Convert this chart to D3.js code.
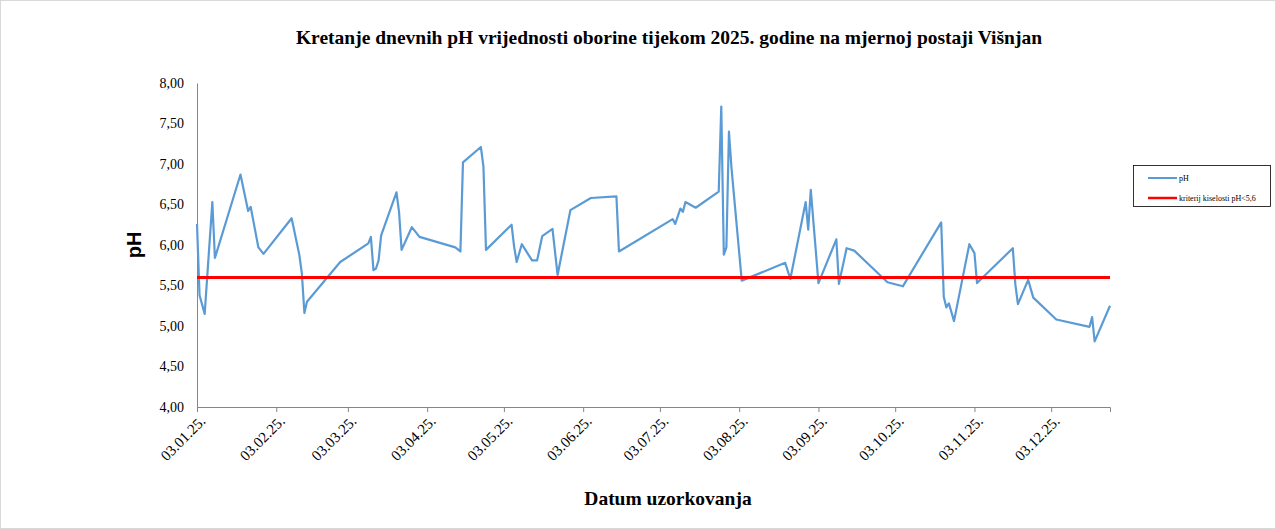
<!DOCTYPE html>
<html>
<head>
<meta charset="utf-8">
<script src="https://cdn.jsdelivr.net/npm/d3@7"></script>
<style>
  body { margin: 0; background: #fff; }
  svg { display: block; }
  .serif { font-family: "Liberation Serif", "Times New Roman", serif; fill: #000; }
</style>
</head>
<body>
<svg id="chart" width="1276" height="529"></svg>
<script>
// sampling dates and measured pH values
const dates = [
  '2025-01-03','2025-01-04','2025-01-06','2025-01-09','2025-01-10','2025-01-20','2025-01-23','2025-01-24',
  '2025-01-27','2025-01-29','2025-02-09','2025-02-12','2025-02-13','2025-02-14','2025-02-15','2025-02-28',
  '2025-03-11','2025-03-12','2025-03-13','2025-03-14','2025-03-15','2025-03-16','2025-03-22','2025-03-23',
  '2025-03-24','2025-03-28','2025-03-31','2025-04-14','2025-04-16','2025-04-17','2025-04-24','2025-04-25',
  '2025-04-26','2025-05-06','2025-05-07','2025-05-08','2025-05-10','2025-05-14','2025-05-16','2025-05-18',
  '2025-05-22','2025-05-24','2025-05-29','2025-06-06','2025-06-16','2025-06-17','2025-07-08','2025-07-09',
  '2025-07-11','2025-07-12','2025-07-13','2025-07-17','2025-07-26','2025-07-27','2025-07-28','2025-07-29',
  '2025-07-30','2025-07-31','2025-08-04','2025-08-21','2025-08-23','2025-08-29','2025-08-30','2025-08-31',
  '2025-09-03','2025-09-10','2025-09-11','2025-09-14','2025-09-17','2025-09-30','2025-10-06','2025-10-21',
  '2025-10-22','2025-10-23','2025-10-24','2025-10-26','2025-11-01','2025-11-03','2025-11-04','2025-11-18',
  '2025-11-19','2025-11-20','2025-11-24','2025-11-26','2025-12-05','2025-12-18','2025-12-19','2025-12-20',
  '2025-12-26'
];
const phValues = [
  6.26, 5.38, 5.15, 6.53, 5.84, 6.87, 6.42, 6.47,
  5.97, 5.89, 6.33, 5.88, 5.65, 5.16, 5.30, 5.79,
  6.02, 6.10, 5.69, 5.71, 5.81, 6.12, 6.65, 6.41,
  5.94, 6.22, 6.10, 5.97, 5.92, 7.02, 7.21, 6.97,
  5.94, 6.25, 5.98, 5.79, 6.01, 5.81, 5.81, 6.11,
  6.20, 5.63, 6.43, 6.58, 6.60, 5.92, 6.32, 6.26,
  6.45, 6.41, 6.53, 6.46, 6.66, 7.71, 5.88, 5.97,
  7.40, 6.95, 5.56, 5.78, 5.58, 6.53, 6.19, 6.68,
  5.53, 6.07, 5.52, 5.96, 5.93, 5.54, 5.49, 6.28,
  5.36, 5.23, 5.28, 5.06, 6.01, 5.90, 5.53, 5.96,
  5.51, 5.27, 5.57, 5.35, 5.08, 4.99, 5.11, 4.81,
  5.25
];
const acidLimit = 5.6;
const yTicks = [4, 4.5, 5, 5.5, 6, 6.5, 7, 7.5, 8];
const xTickDates = ['2025-01-03','2025-02-03','2025-03-03','2025-04-03','2025-05-03','2025-06-03',
  '2025-07-03','2025-08-03','2025-09-03','2025-10-03','2025-11-03','2025-12-03'];
const legendLabels = ['pH', 'kriterij kiselosti pH<5,6'];

const parse = d3.timeParse('%Y-%m-%d');
const points = dates.map((d, i) => ({ date: parse(d), ph: phValues[i] }));

const svg = d3.select('#chart');
const W = 1276, H = 529;
const plot = { left: 197, right: 1110, top: 83, bottom: 407 };

svg.append('rect')
  .attr('x', 0.5).attr('y', 0.5).attr('width', W - 1).attr('height', H - 1)
  .attr('fill', '#fff').attr('stroke', '#d9d9d9');

const x = d3.scaleTime()
  .domain(d3.extent(points, d => d.date))
  .range([plot.left, plot.right]);
const y = d3.scaleLinear().domain([4, 8]).range([plot.bottom, plot.top]);

const fmtY = v => d3.format('.2f')(v).replace('.', ',');
const fmtX = d3.timeFormat('%d.%m.%y.');

// y axis (no tick marks, just line + labels)
const yAxis = svg.append('g')
  .attr('transform', `translate(${plot.left},0)`)
  .call(d3.axisLeft(y).tickValues(yTicks).tickFormat(fmtY).tickSize(0).tickPadding(13));
yAxis.select('.domain').attr('stroke', '#868686').attr('stroke-width', 1);
yAxis.selectAll('text')
  .attr('class', 'serif')
  .style('font-size', '14px');

// x axis
const xAxis = svg.append('g')
  .attr('transform', `translate(0,${plot.bottom})`)
  .call(d3.axisBottom(x).tickValues(xTickDates.map(parse)).tickFormat(fmtX).tickSizeOuter(0).tickSize(5));
xAxis.select('.domain').attr('stroke', '#868686').attr('stroke-width', 1);
xAxis.selectAll('.tick line').attr('stroke', '#868686');
xAxis.selectAll('text')
  .attr('class', 'serif')
  .style('font-size', '15px')
  .attr('text-anchor', 'end')
  .attr('dy', null)
  .attr('y', 0)
  .attr('transform', 'translate(9,15) rotate(-45)');

// pH series
const line = d3.line().x(d => x(d.date)).y(d => y(d.ph));
svg.append('path')
  .datum(points)
  .attr('fill', 'none')
  .attr('stroke', '#5b9bd5')
  .attr('stroke-width', 2.2)
  .attr('stroke-linejoin', 'round')
  .attr('d', line);

// acidity criterion
svg.append('line')
  .attr('x1', plot.left).attr('x2', plot.right)
  .attr('y1', y(acidLimit)).attr('y2', y(acidLimit))
  .attr('stroke', '#ff0000').attr('stroke-width', 3);

// titles
svg.append('text')
  .attr('class', 'serif')
  .attr('x', 669).attr('y', 44)
  .attr('text-anchor', 'middle')
  .style('font-size', '19.5px').style('font-weight', 'bold')
  .text('Kretanje dnevnih pH vrijednosti oborine tijekom 2025. godine na mjernoj postaji Višnjan');

svg.append('text')
  .attr('class', 'serif')
  .attr('x', 668).attr('y', 505)
  .attr('text-anchor', 'middle')
  .style('font-size', '19.5px').style('font-weight', 'bold')
  .text('Datum uzorkovanja');

svg.append('text')
  .attr('transform', `translate(141,${(plot.top + plot.bottom) / 2}) rotate(-90)`)
  .attr('text-anchor', 'middle')
  .style('font-family', '"Liberation Sans", Arial, sans-serif')
  .style('font-size', '20px').style('font-weight', 'bold')
  .text('pH');

// legend
const lg = svg.append('g').attr('transform', 'translate(1133,165)');
lg.append('rect')
  .attr('x', 0.5).attr('y', 0.5).attr('width', 137).attr('height', 41)
  .attr('fill', '#fff').attr('stroke', '#000').attr('stroke-width', 0.8);
const legendColors = ['#5b9bd5', '#ff0000'];
legendLabels.forEach((lab, i) => {
  const ly = 13 + i * 20;
  lg.append('line')
    .attr('x1', 15).attr('x2', 44).attr('y1', ly).attr('y2', ly)
    .attr('stroke', legendColors[i]).attr('stroke-width', i ? 2.5 : 2);
  lg.append('text')
    .attr('class', 'serif')
    .attr('x', 46).attr('y', ly + 3)
    .style('font-size', '8px')
    .text(lab);
});
</script>
</body>
</html>
